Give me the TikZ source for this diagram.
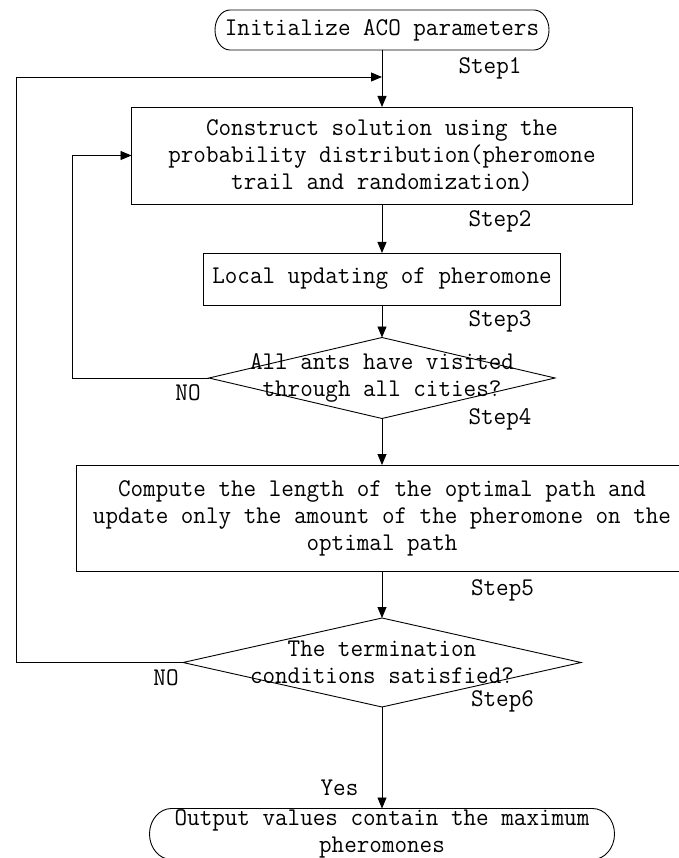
\documentclass[tikz,border=0pt]{standalone}
\usepackage{fontspec}
\newfontfamily\diafont{lmmono12-regular.otf}[FakeStretch=0.957]
\usetikzlibrary{arrows.meta,shapes.geometric}
\begin{document}
\begin{tikzpicture}[x=1pt,y=-1pt,
  every node/.style={font=\diafont\fontsize{25.5}{27}\selectfont, inner sep=0pt, outer sep=0pt},
  line/.style={line width=0.9pt},
  arr/.style={line width=0.9pt,-{Triangle[length=11pt,width=9pt]}},
  box/.style={draw,line width=0.9pt,rectangle,align=center},
  dia/.style={draw,line width=0.9pt,diamond},
  txt/.style={align=center}]
\useasboundingbox (0,0) rectangle (678,858);

% terminator: start
\node[txt, minimum width=334pt, minimum height=40pt] (init) at (382,30) {Initialize ACO parameters};
\draw[line] ([xshift=15pt]init.north west) -- ([xshift=-15pt]init.north east)
  arc[start angle=90,end angle=-90,x radius=15pt,y radius=20pt]
  -- ([xshift=15pt]init.south west)
  arc[start angle=270,end angle=90,x radius=15pt,y radius=20pt] -- cycle;

% process boxes
\node[box, minimum width=501pt, minimum height=97pt] (b1) at (382,155.5)
  {Construct solution using the\\probability distribution(pheromone\\trail and randomization)};
\node[box, minimum width=357pt, minimum height=52pt] (b2) at (382,279) {Local updating of pheromone};
\node[dia, minimum width=346pt, minimum height=81pt] (d1) at (382,378) {};
\node[txt] (d1t) at (382,377.5) {All ants have visited\\through all cities?};
\node[box, minimum width=612pt, minimum height=106pt] (b3) at (382,518)
  {Compute the length of the optimal path and\\update only the amount of the pheromone on the\\optimal path};
\node[dia, minimum width=398pt, minimum height=89pt] (d2) at (382,662.5) {};
\node[txt] (d2t) at (382,662) {The termination\\conditions satisfied?};

% terminator: end
\node[txt, minimum width=465pt, minimum height=51pt] (out) at (382,834)
  {Output values contain the maximum\\pheromones};
\draw[line] ([xshift=22pt]out.north west) -- ([xshift=-22pt]out.north east)
  arc[start angle=90,end angle=-90,x radius=22pt,y radius=25.5pt]
  -- ([xshift=22pt]out.south west)
  arc[start angle=270,end angle=90,x radius=22pt,y radius=25.5pt] -- cycle;

% labels
\node (s1) at (490,68) {Step1};
\node (s2) at (500,221.5) {Step2};
\node (s3) at (500,321) {Step3};
\node (s4) at (500,419) {Step4};
\node (s5) at (502.5,590) {Step5};
\node (s6) at (502.5,701) {Step6};
\node (no1) at (188,393) {NO};
\node (no2) at (166,678) {NO};
\node (yes) at (339.5,788) {Yes};

% connectors
\coordinate (j1) at (382,77);
\coordinate (ol) at (16,77);
\coordinate (il) at (72,155.5);
\draw[arr] (init.south) -- (b1.north);
\draw[arr] (d2.west) -| (ol) -- (j1);
\draw[arr] (b1.south) -- (b2.north);
\draw[arr] (b2.south) -- (d1.north);
\draw[arr] (d1.west) -| (il) -- (b1.west);
\draw[arr] (d1.south) -- (b3.north);
\draw[arr] (b3.south) -- (d2.north);
\draw[arr] (d2.south) -- (out.north);
\end{tikzpicture}
\end{document}
